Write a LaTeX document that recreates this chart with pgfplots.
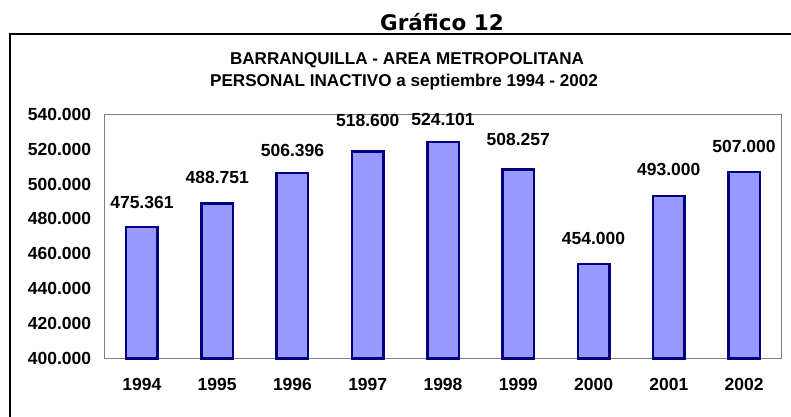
\documentclass[border=0pt]{standalone}
\usepackage{pgfplots}
\pgfplotsset{compat=1.18}
\usepackage{pgfplotstable}
\usepackage{fontspec}
\setmainfont{Liberation Sans}
\newfontfamily\tahoma{DejaVu Sans}
\definecolor{barfill}{HTML}{9999FF}
\definecolor{barline}{HTML}{000080}
\definecolor{axgray}{HTML}{808080}
\pgfplotstableread{
x y label dy
0 475361 475.361 18.7
1 488751 488.751 20.3
2 506396 506.396 16.2
3 518600 518.600 24.9
4 524101 524.101 16.5
5 508257 508.257 24.6
6 454000 454.000 19.9
7 493000 493.000 21.0
8 507000 507.000 19.2
}\data
\begin{document}
\begin{tikzpicture}[x=1pt,y=1pt]
\useasboundingbox (0,0) rectangle (791,416);
\draw[black, line width=1.2pt] (10,-5) -- (10,382) -- (800,382);
\node[anchor=base, font=\tahoma\bfseries\fontsize{21.5}{24}\selectfont, inner sep=0pt] at (442,385) {Gráfico 12};
\node[anchor=base, font=\bfseries\fontsize{17.1}{20}\selectfont, inner sep=0pt] at (407,352) {BARRANQUILLA - AREA METROPOLITANA};
\node[anchor=base, font=\bfseries\fontsize{17.1}{20}\selectfont, inner sep=0pt] at (404,329.3) {PERSONAL INACTIVO a septiembre 1994 - 2002};
\begin{axis}[
  at={(104.3pt,57.7pt)}, anchor=south west,
  scale only axis, width=677.4pt, height=244pt,
  xmin=-0.5, xmax=8.5, ymin=0, ymax=140000,
  scaled y ticks=false,
  xtick={0,...,8}, xticklabels={1994,1995,1996,1997,1998,1999,2000,2001,2002},
  ytick={0,20000,...,140000},
  yticklabels={400.000,420.000,440.000,460.000,480.000,500.000,520.000,540.000},
  major tick length=0pt,
  axis line style={axgray, line width=1pt},
  /pgf/number format/assume math mode=true,
  tick label style={font=\bfseries\fontsize{17.5}{20}\selectfont, inner sep=0pt},
  yticklabel style={xshift=-13pt},
  xticklabel style={yshift=-20pt},
  ybar, bar width=31.5pt,
  nodes near coords, point meta=explicit symbolic,
  visualization depends on={\thisrow{dy} \as \dy},
  nodes near coords style={font=\bfseries\fontsize{17.5}{20}\selectfont, inner sep=0pt, anchor=base, yshift=\dy pt},
  clip=false,
]
\addplot[fill=barfill, draw=barline, line width=2.5pt] table[x=x, y expr=\thisrow{y}-400000, meta=label] {\data};
\end{axis}
\end{tikzpicture}
\end{document}
